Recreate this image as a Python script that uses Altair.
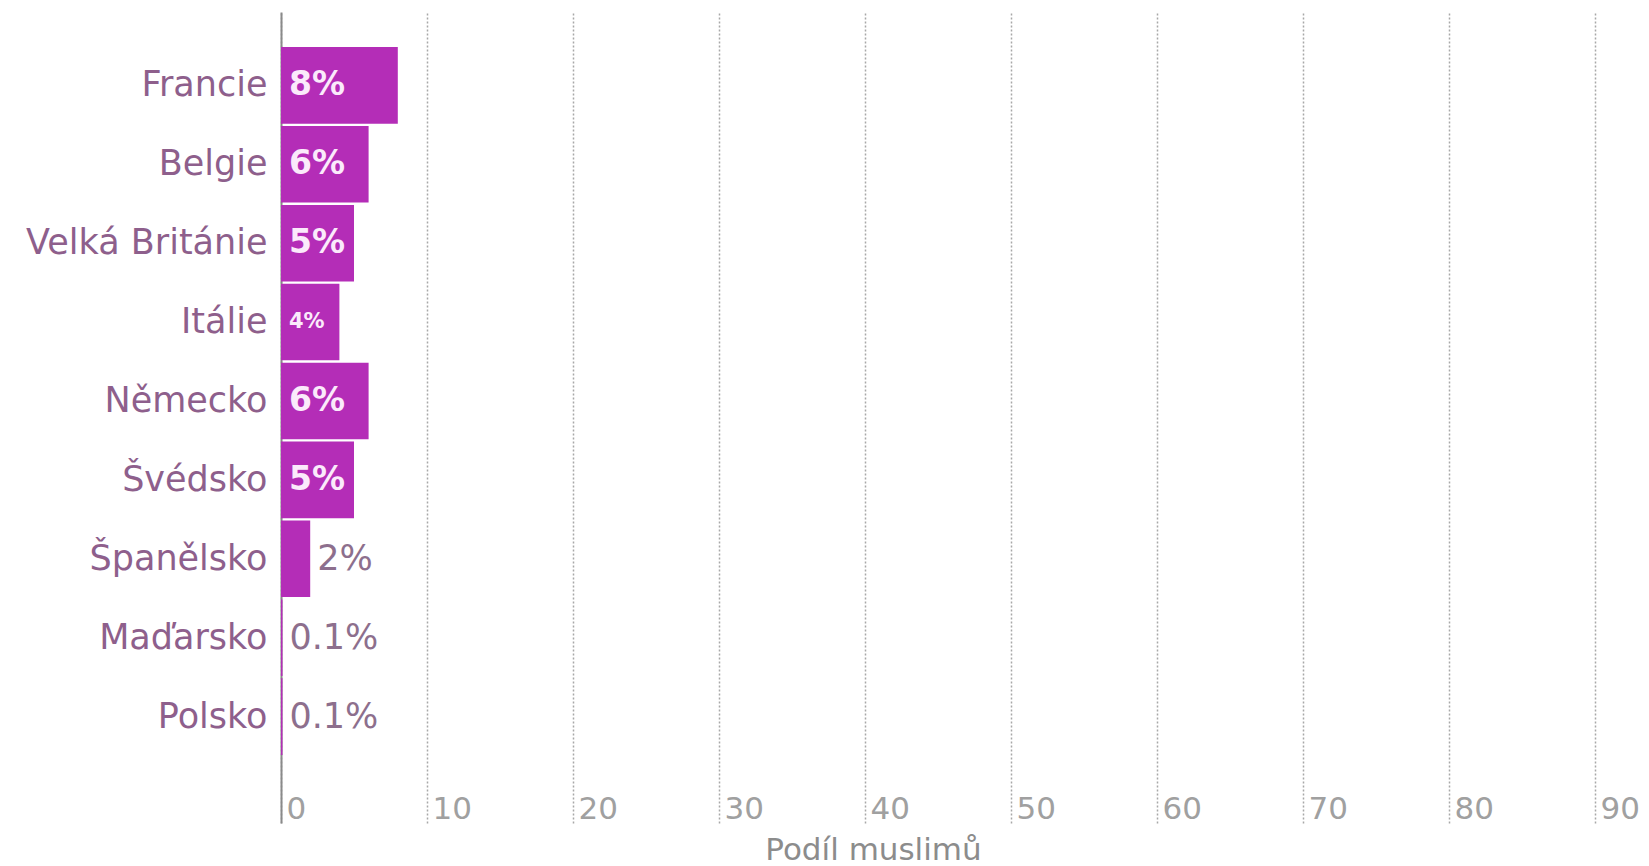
import altair as alt
import pandas as pd

countries = ["Francie", "Belgie", "Velká Británie", "Itálie", "Německo",
             "Švédsko", "Španělsko", "Maďarsko", "Polsko"]
values = [8, 6, 5, 4, 6, 5, 2, 0.1, 0.1]
labels = ["8%", "6%", "5%", "4%", "6%", "5%", "2%", "0.1%", "0.1%"]
x_ticks = [0, 10, 20, 30, 40, 50, 60, 70, 80, 90]

df = pd.DataFrame({"country": countries, "value": values, "label": labels})

FONT = "DejaVu Sans"
BAR = "#b42db7"

y_scale = alt.Scale(paddingInner=0.03, paddingOuter=0.654, align=0.34)
y_enc = alt.Y("country:N", sort=countries, title=None, scale=y_scale,
              axis=alt.Axis(ticks=False, domain=True, domainColor="#8a8a8a",
                            domainWidth=2, labelFont=FONT, labelFontSize=35,
                            labelColor="#8e5f8c", labelPadding=14,
                            labelLimit=400,
                            minExtent=273, maxExtent=273, grid=False))

x_scale = alt.Scale(domain=[0, 90], nice=False)

bars = alt.Chart(df).mark_bar(color=BAR).encode(
    x=alt.X("value:Q", scale=x_scale, title="Podíl muslimů",
            axis=alt.Axis(values=x_ticks, domain=False, ticks=False,
                          grid=True, gridColor="#a8a8a8", gridDash=[2, 2],
                          gridWidth=1.5,
                          labelFont=FONT, labelFontSize=31, labelColor="#a0a0a0",
                          labelAlign="left", labelBaseline="middle",
                          labelPadding=-14, labelOffset=5,
                          titleFont=FONT, titleFontSize=31,
                          titleFontWeight="normal", titleColor="#8c8c8c",
                          titleX=592, titleY=27, titleAlign="center",
                          titleBaseline="middle")),
    y=y_enc,
)

inside = alt.Chart(df).transform_filter("datum.value >= 3").mark_text(
    align="left", baseline="middle", dx=8, font=FONT, fontWeight="bold",
    color="#fbeafb").encode(
    x=alt.datum(0, scale=x_scale),
    y=alt.Y("country:N", sort=countries),
    text="label:N",
    size=alt.condition("datum.label == '4%'", alt.value(21), alt.value(33)),
)

outside = alt.Chart(df).transform_filter("datum.value < 3").mark_text(
    align="left", baseline="middle", dx=7, font=FONT, fontSize=35,
    color="#8d6f8d").encode(
    x=alt.X("value:Q", scale=x_scale),
    y=alt.Y("country:N", sort=countries),
    text="label:N",
)

chart = alt.layer(bars, inside, outside).properties(
    width=1314, height=811, background="white",
    padding={"left": 0, "top": 4, "right": 0, "bottom": 0},
).configure_view(stroke=None)

chart.save("out.html", embed_options={"renderer": "svg", "actions": False})
